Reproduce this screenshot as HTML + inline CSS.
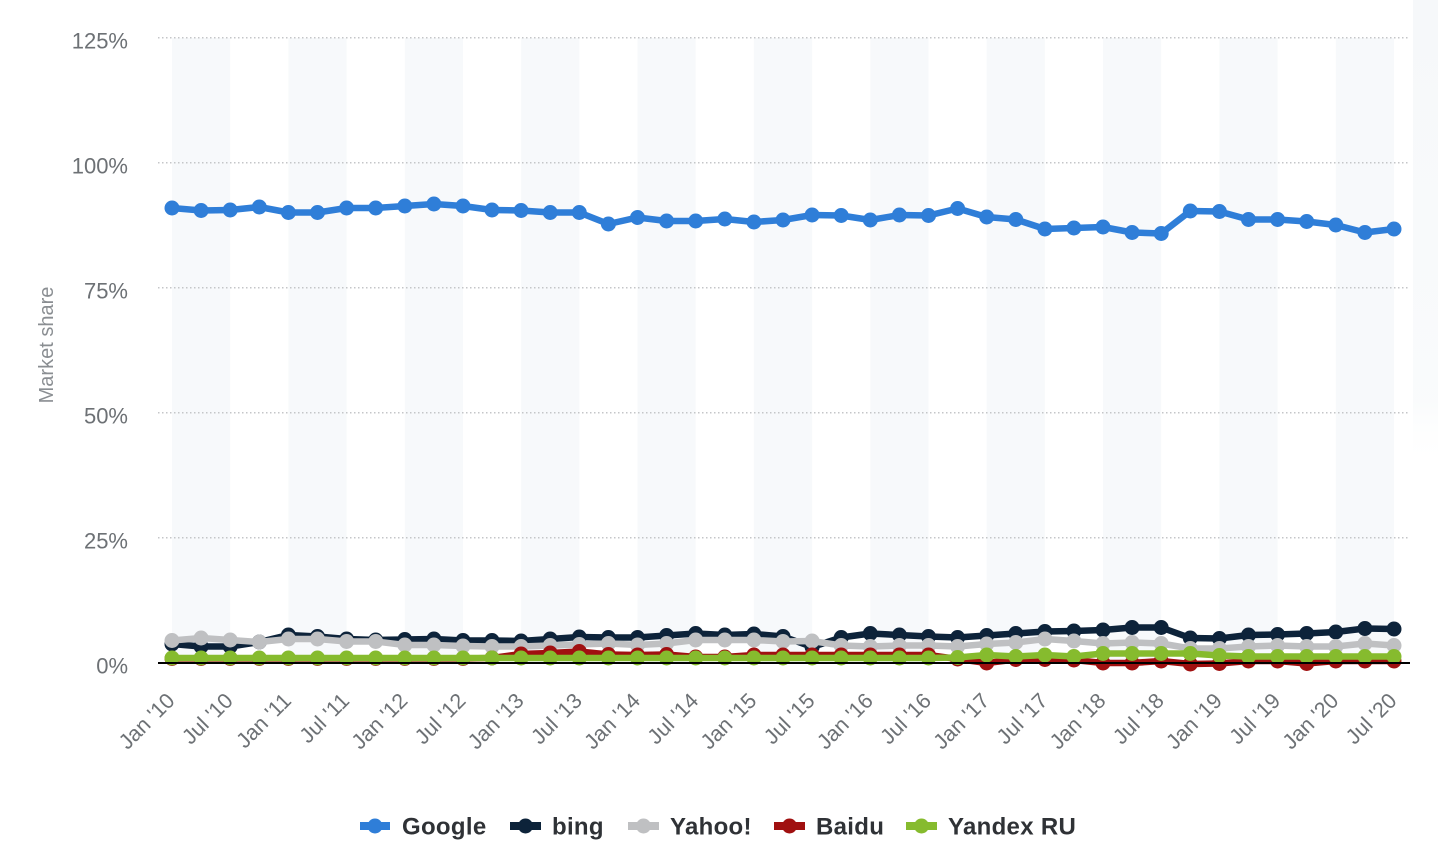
<!DOCTYPE html>
<html>
<head>
<meta charset="utf-8">
<style>
  html, body { margin: 0; padding: 0; background: #ffffff; }
  svg { display: block; }
  .yl { font-family: "Liberation Sans", sans-serif; font-size: 22px; fill: #6d7175; }
  .xl { font-family: "Liberation Sans", sans-serif; font-size: 21.5px; fill: #6d7175; }
  .tt { font-family: "Liberation Sans", sans-serif; font-size: 20px; fill: #8a8e92; }
  .lg { font-family: "Liberation Sans", sans-serif; font-size: 24px; font-weight: bold; fill: #2f3236; letter-spacing: 0.3px; }
</style>
</head>
<body>
<svg width="1438" height="864" viewBox="0 0 1438 864" xmlns="http://www.w3.org/2000/svg">
  <defs>
    <marker id="mG" markerWidth="16" markerHeight="16" refX="8" refY="8" markerUnits="userSpaceOnUse"><circle cx="8" cy="8" r="7.5" fill="#2f7ed8"/></marker>
    <marker id="mB" markerWidth="16" markerHeight="16" refX="8" refY="8" markerUnits="userSpaceOnUse"><circle cx="8" cy="8" r="7.5" fill="#0d233a"/></marker>
    <marker id="mY" markerWidth="16" markerHeight="16" refX="8" refY="8" markerUnits="userSpaceOnUse"><circle cx="8" cy="8" r="7.5" fill="#bfc0c2"/></marker>
    <marker id="mD" markerWidth="16" markerHeight="16" refX="8" refY="8" markerUnits="userSpaceOnUse"><circle cx="8" cy="8" r="7.5" fill="#a01010"/></marker>
    <marker id="mX" markerWidth="16" markerHeight="16" refX="8" refY="8" markerUnits="userSpaceOnUse"><circle cx="8" cy="8" r="7.5" fill="#86bb2e"/></marker>
    <linearGradient id="edge" x1="0" y1="0" x2="0" y2="1">
      <stop offset="0" stop-color="#f6f8fa" stop-opacity="1"/>
      <stop offset="0.85" stop-color="#f8fafb" stop-opacity="0.8"/>
      <stop offset="1" stop-color="#ffffff" stop-opacity="0"/>
    </linearGradient>
  </defs>

  <rect x="0" y="0" width="1438" height="864" fill="#ffffff"/>
  <rect x="1413" y="0" width="25" height="470" fill="url(#edge)"/>

  <!-- alternate bands -->
  <g fill="#f7f9fb">
    <rect x="172" y="38" width="58.2" height="625"/>
    <rect x="288.4" y="38" width="58.2" height="625"/>
    <rect x="404.8" y="38" width="58.2" height="625"/>
    <rect x="521.1" y="38" width="58.2" height="625"/>
    <rect x="637.5" y="38" width="58.2" height="625"/>
    <rect x="753.9" y="38" width="58.2" height="625"/>
    <rect x="870.3" y="38" width="58.2" height="625"/>
    <rect x="986.7" y="38" width="58.2" height="625"/>
    <rect x="1103" y="38" width="58.2" height="625"/>
    <rect x="1219.4" y="38" width="58.2" height="625"/>
    <rect x="1335.8" y="38" width="58.2" height="625"/>
  </g>

  <!-- gridlines -->
  <g stroke="#c4c6c8" stroke-width="1.5" stroke-dasharray="1.5 2.5">
    <line x1="158" y1="37.7" x2="1410" y2="37.7"/>
    <line x1="158" y1="162.7" x2="1410" y2="162.7"/>
    <line x1="158" y1="287.7" x2="1410" y2="287.7"/>
    <line x1="158" y1="412.7" x2="1410" y2="412.7"/>
    <line x1="158" y1="537.7" x2="1410" y2="537.7"/>
  </g>

  <!-- y labels -->
  <g class="yl" text-anchor="end">
    <text x="128" y="48.5">125%</text>
    <text x="128" y="173.5">100%</text>
    <text x="128" y="298.5">75%</text>
    <text x="128" y="423.5">50%</text>
    <text x="128" y="548.5">25%</text>
    <text x="128" y="673.5">0%</text>
  </g>

  <text class="tt" text-anchor="middle" transform="translate(53,345) rotate(-90)">Market share</text>

  <!-- series -->
  <g fill="none" stroke-width="6.5" stroke-linejoin="round" stroke-linecap="round">
    <polyline stroke="#2f7ed8" marker-start="url(#mG)" marker-mid="url(#mG)" marker-end="url(#mG)"
      points="172,208 201.1,210.5 230.2,210 259.3,207 288.4,212.5 317.5,212.5 346.6,208 375.7,208 404.8,206 433.9,204 463,206 492,210 521.1,210.5 550.2,212.5 579.3,212.5 608.4,224 637.5,217.5 666.6,221 695.7,221 724.8,219 753.9,222 783,220 812.1,215 841.2,215.5 870.3,220 899.4,215 928.5,215.5 957.6,208.5 986.7,217 1015.8,219.5 1044.9,229 1073.9,228 1103,227 1132.1,232.5 1161.2,233.5 1190.3,211 1219.4,211.5 1248.5,219.5 1277.6,219.5 1306.7,221.5 1335.8,225 1364.9,232.5 1394,229"/>
    <polyline stroke="#0d233a" marker-start="url(#mB)" marker-mid="url(#mB)" marker-end="url(#mB)"
      points="172,644 201.1,646.5 230.2,646.5 259.3,642 288.4,635 317.5,636.5 346.6,639 375.7,640 404.8,639.5 433.9,639 463,640.5 492,640.5 521.1,641 550.2,639 579.3,637 608.4,637.5 637.5,637.5 666.6,635.5 695.7,633.5 724.8,635 753.9,634 783,636.5 812.1,647 841.2,637.5 870.3,633.5 899.4,635 928.5,636.5 957.6,637.5 986.7,635.5 1015.8,633.5 1044.9,631.5 1073.9,631 1103,630 1132.1,627.5 1161.2,627.5 1190.3,638 1219.4,638.5 1248.5,635 1277.6,634.5 1306.7,633.5 1335.8,632 1364.9,628.5 1394,629"/>
    <polyline stroke="#bfc0c2" marker-start="url(#mY)" marker-mid="url(#mY)" marker-end="url(#mY)"
      points="172,640.5 201.1,638 230.2,640 259.3,642 288.4,639 317.5,639 346.6,641.5 375.7,641.5 404.8,645 433.9,645 463,646 492,646.5 521.1,646.5 550.2,645.5 579.3,644.5 608.4,643.5 637.5,645 666.6,643.5 695.7,640 724.8,640 753.9,640 783,641.5 812.1,641 841.2,645.5 870.3,646.5 899.4,645.5 928.5,645.5 957.6,646.5 986.7,644 1015.8,642.5 1044.9,639 1073.9,641 1103,643.5 1132.1,642.5 1161.2,643.5 1190.3,648.5 1219.4,648.5 1248.5,646.5 1277.6,645.5 1306.7,646.5 1335.8,646.5 1364.9,643.5 1394,645.5"/>
    <polyline stroke="#a01010" marker-start="url(#mD)" marker-mid="url(#mD)" marker-end="url(#mD)"
      points="172,658.5 201.1,658.5 230.2,658.5 259.3,658.5 288.4,658.5 317.5,658.5 346.6,658.5 375.7,658.5 404.8,658.5 433.9,658.5 463,658.5 492,658 521.1,654 550.2,653 579.3,651.5 608.4,654.5 637.5,655 666.6,654.5 695.7,657 724.8,657 753.9,655 783,655 812.1,655 841.2,655 870.3,655 899.4,655 928.5,655 957.6,659 986.7,663 1015.8,659.5 1044.9,659.5 1073.9,660 1103,663 1132.1,663 1161.2,661 1190.3,664 1219.4,663.5 1248.5,661 1277.6,661 1306.7,663.5 1335.8,661 1364.9,661 1394,661"/>
    <polyline stroke="#86bb2e" marker-start="url(#mX)" marker-mid="url(#mX)" marker-end="url(#mX)"
      points="172,658 201.1,658 230.2,658 259.3,658 288.4,658 317.5,658 346.6,658 375.7,658 404.8,658 433.9,658 463,658 492,658 521.1,658 550.2,658 579.3,658 608.4,658 637.5,658 666.6,658 695.7,658 724.8,658 753.9,658 783,658 812.1,658 841.2,658 870.3,658 899.4,658 928.5,658 957.6,657.5 986.7,655 1015.8,656.5 1044.9,655 1073.9,656.5 1103,653.5 1132.1,653.5 1161.2,653.5 1190.3,653.5 1219.4,655.5 1248.5,656.5 1277.6,656.5 1306.7,656.5 1335.8,656.5 1364.9,656.5 1394,656.5"/>
  </g>

  <!-- zero axis line -->
  <line x1="158" y1="663" x2="1410" y2="663" stroke="#000" stroke-width="2"/>

  <!-- x labels -->
  <g class="xl" text-anchor="end">
    <text transform="translate(176,702) rotate(-45)">Jan '10</text>
    <text transform="translate(234.2,702) rotate(-45)">Jul '10</text>
    <text transform="translate(292.4,702) rotate(-45)">Jan '11</text>
    <text transform="translate(350.6,702) rotate(-45)">Jul '11</text>
    <text transform="translate(408.8,702) rotate(-45)">Jan '12</text>
    <text transform="translate(467,702) rotate(-45)">Jul '12</text>
    <text transform="translate(525.1,702) rotate(-45)">Jan '13</text>
    <text transform="translate(583.3,702) rotate(-45)">Jul '13</text>
    <text transform="translate(641.5,702) rotate(-45)">Jan '14</text>
    <text transform="translate(699.7,702) rotate(-45)">Jul '14</text>
    <text transform="translate(757.9,702) rotate(-45)">Jan '15</text>
    <text transform="translate(816.1,702) rotate(-45)">Jul '15</text>
    <text transform="translate(874.3,702) rotate(-45)">Jan '16</text>
    <text transform="translate(932.5,702) rotate(-45)">Jul '16</text>
    <text transform="translate(990.7,702) rotate(-45)">Jan '17</text>
    <text transform="translate(1048.9,702) rotate(-45)">Jul '17</text>
    <text transform="translate(1107,702) rotate(-45)">Jan '18</text>
    <text transform="translate(1165.2,702) rotate(-45)">Jul '18</text>
    <text transform="translate(1223.4,702) rotate(-45)">Jan '19</text>
    <text transform="translate(1281.6,702) rotate(-45)">Jul '19</text>
    <text transform="translate(1339.8,702) rotate(-45)">Jan '20</text>
    <text transform="translate(1398,702) rotate(-45)">Jul '20</text>
  </g>

  <!-- legend -->
  <g>
    <line x1="360" y1="826" x2="390" y2="826" stroke="#2f7ed8" stroke-width="8"/>
    <circle cx="375" cy="826" r="7.5" fill="#2f7ed8"/>
    <text class="lg" x="402" y="834.5">Google</text>

    <line x1="510" y1="826" x2="541" y2="826" stroke="#0d233a" stroke-width="8"/>
    <circle cx="525.5" cy="826" r="7.5" fill="#0d233a"/>
    <text class="lg" x="552" y="834.5">bing</text>

    <line x1="628" y1="826" x2="659" y2="826" stroke="#bfc0c2" stroke-width="8"/>
    <circle cx="643.5" cy="826" r="7.5" fill="#bfc0c2"/>
    <text class="lg" x="670" y="834.5">Yahoo!</text>

    <line x1="774" y1="826" x2="805" y2="826" stroke="#a01010" stroke-width="8"/>
    <circle cx="789.5" cy="826" r="7.5" fill="#a01010"/>
    <text class="lg" x="816" y="834.5">Baidu</text>

    <line x1="906" y1="826" x2="937" y2="826" stroke="#86bb2e" stroke-width="8"/>
    <circle cx="921.5" cy="826" r="7.5" fill="#86bb2e"/>
    <text class="lg" x="948" y="834.5">Yandex RU</text>
  </g>
</svg>
</body>
</html>
